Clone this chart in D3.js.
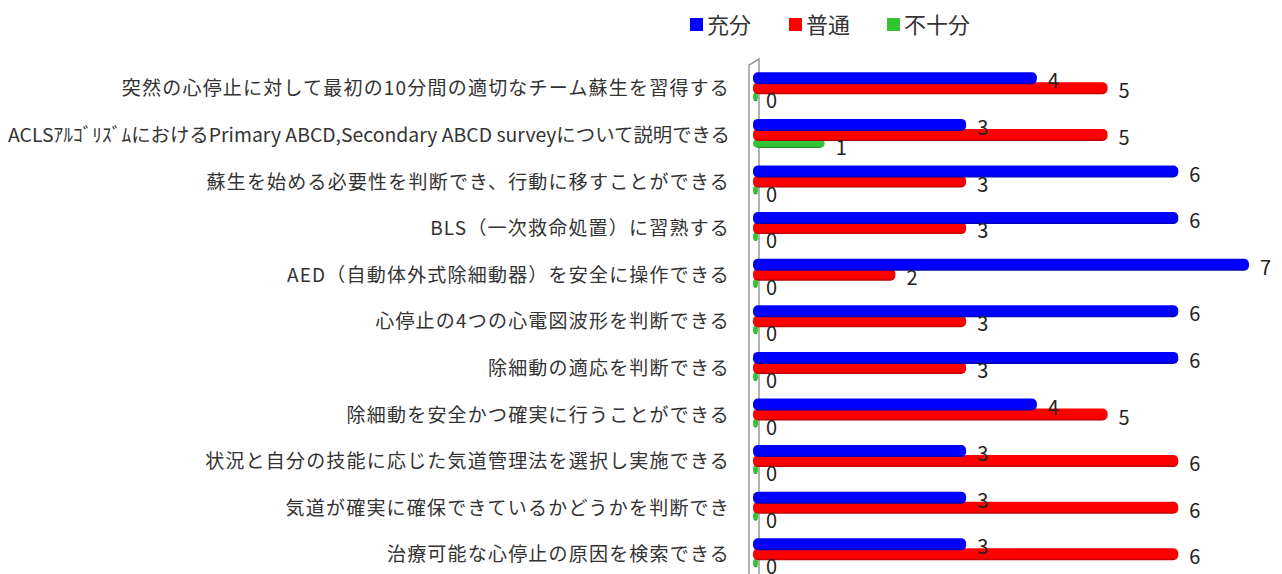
<!DOCTYPE html>
<html><head><meta charset="utf-8">
<script src="https://cdn.jsdelivr.net/npm/d3@7"></script>
<style>
body{margin:0;background:#fff;}
svg{display:block;font-family:"Noto Sans CJK JP","Noto Sans",sans-serif;}
</style></head>
<body><div id="chart"></div>
<script>
const categories=[
  "突然の心停止に対して最初の10分間の適切なチーム蘇生を習得する",
  "ACLSｱﾙｺﾞﾘｽﾞﾑにおけるPrimary ABCD,Secondary ABCD surveyについて説明できる",
  "蘇生を始める必要性を判断でき、行動に移すことができる",
  "BLS（一次救命処置）に習熟する",
  "AED（自動体外式除細動器）を安全に操作できる",
  "心停止の4つの心電図波形を判断できる",
  "除細動の適応を判断できる",
  "除細動を安全かつ確実に行うことができる",
  "状況と自分の技能に応じた気道管理法を選択し実施できる",
  "気道が確実に確保できているかどうかを判断でき",
  "治療可能な心停止の原因を検索できる"
];
const seriesNames=["充分","普通","不十分"];
const juubun=[4,3,6,6,7,6,6,4,3,3,3];
const futsuu=[5,5,3,3,2,3,3,5,6,6,6];
const fujuubun=[0,1,0,0,0,0,0,0,0,0,0];
const colors=["#0000ff","#ff0000","#33c433"];
const darks=["#0000a8","#b00000","#1f8a1f"];

const W=1282,H=574,x0=754;
const svg=d3.select("#chart").append("svg").attr("width",W).attr("height",H);
const defs=svg.append("defs");
colors.forEach((c,i)=>{
  const gr=defs.append("linearGradient").attr("id","g"+i).attr("x1",0).attr("y1",0).attr("x2",0).attr("y2",1);
  gr.append("stop").attr("offset","0%").attr("stop-color",d3.color(c).brighter(0.5));
  gr.append("stop").attr("offset","25%").attr("stop-color",c);
  gr.append("stop").attr("offset","80%").attr("stop-color",c);
  gr.append("stop").attr("offset","100%").attr("stop-color",darks[i]);
});

const x=d3.scaleLinear().domain([0,7]).range([x0,x0+495]);
const y=d3.scaleBand().domain(categories).range([65,65+46.6*11]);
const off=d3.scaleOrdinal().domain(seriesNames).range([-10,0,10]);
const bh=12;

// wall
svg.append("path")
  .attr("d",`M${x0-5},${H}V65L${x0+5},59V${H}`)
  .attr("fill","none").attr("stroke","#9a9a9a").attr("stroke-width",1.5);

// category labels
const maxW=722;
svg.append("g").selectAll("text").data(categories).join("text")
  .attr("x",730).attr("y",d=>y(d)+y.bandwidth()/2+7)
  .attr("text-anchor","end").attr("font-size",19).attr("letter-spacing",1.2)
  .attr("fill","#333").text(d=>d)
  .each(function(){
    const t=d3.select(this);
    if(this.getComputedTextLength()>maxW){
      t.attr("letter-spacing",0).attr("textLength",maxW).attr("lengthAdjust","spacingAndGlyphs");
    }
  });

const series=[juubun,futsuu,fujuubun];
[2,1,0].forEach(si=>{
  const g=svg.append("g");
  const rows=categories.map((c,i)=>({c,v:series[si][i]}));
  g.selectAll("rect").data(rows).join("rect")
    .attr("x",x(0)-1)
    .attr("y",d=>y(d.c)+y.bandwidth()/2+off(seriesNames[si])-bh/2)
    .attr("width",d=>Math.max(x(d.v)-x(0)+1,5))
    .attr("height",si===2?bh-3:bh).attr("rx",5)
    .attr("fill",`url(#g${si})`);
});
[2,1,0].forEach(si=>{
  const rows=categories.map((c,i)=>({c,v:series[si][i]}));
  svg.append("g").selectAll("text").data(rows).join("text")
    .attr("x",d=>x(d.v)+(d.v===0?12:11))
    .attr("y",d=>y(d.c)+y.bandwidth()/2+off(seriesNames[si])+10)
    .attr("font-size",20).attr("fill","#222").text(d=>d.v);
});

// legend
const lx=[690,789,887];
const lg=svg.append("g");
seriesNames.forEach((s,i)=>{
  lg.append("rect").attr("x",lx[i]).attr("y",18).attr("width",13).attr("height",13).attr("fill",colors[i]);
  lg.append("text").attr("x",lx[i]+17).attr("y",33).attr("font-size",22).attr("fill","#333").text(s);
});
</script></body></html>
